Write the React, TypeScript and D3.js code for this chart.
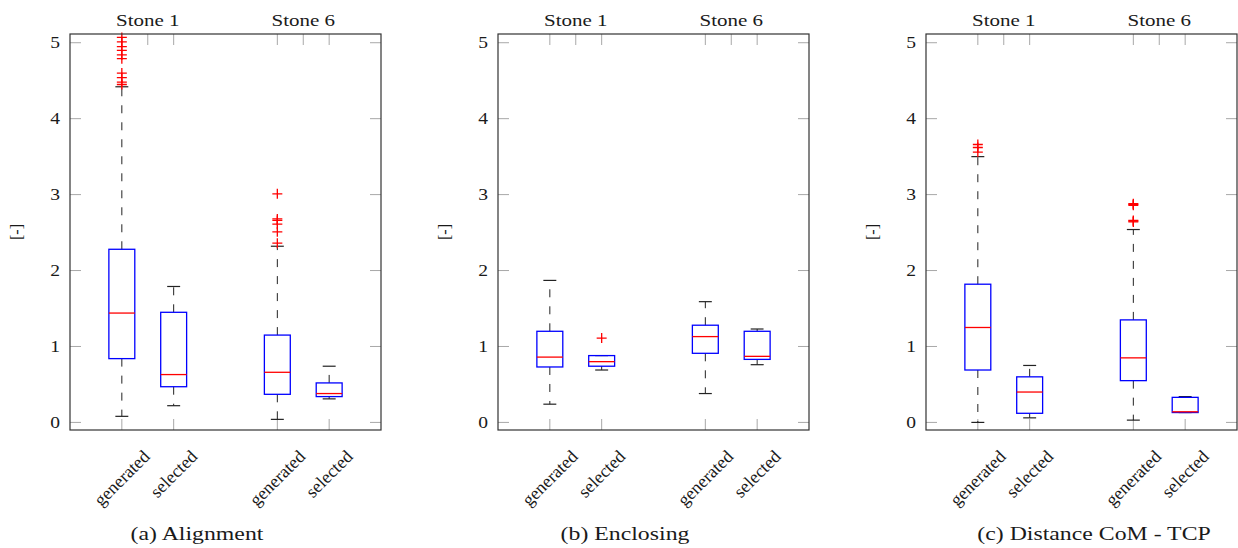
import { useEffect, useRef } from "react"
import * as d3 from "d3"

// two stones, two kinds of grasp each
const stones = ["Stone 1", "Stone 6"]
const kinds = ["generated", "selected", "generated", "selected"]
const positions = [1, 2, 4, 5]
const stonePositions = [1.5, 4.5]
const yTicks = [0, 1, 2, 3, 4, 5]

// each box: [lower whisker, q1, median, q3, upper whisker]
const alignmentBoxes = [
  [0.08, 0.84, 1.44, 2.28, 4.42],
  [0.22, 0.47, 0.63, 1.45, 1.79],
  [0.04, 0.37, 0.66, 1.15, 2.32],
  [0.31, 0.34, 0.38, 0.52, 0.74],
]
const alignmentOutliers = [
  [5.07, 5.01, 4.95, 4.9, 4.84, 4.79, 4.6, 4.54, 4.48, 4.45],
  [],
  [3.01, 2.68, 2.66, 2.61, 2.51, 2.36],
  [],
]

const enclosingBoxes = [
  [0.24, 0.73, 0.86, 1.2, 1.87],
  [0.69, 0.74, 0.8, 0.88, 0.88],
  [0.38, 0.91, 1.13, 1.28, 1.59],
  [0.76, 0.83, 0.87, 1.2, 1.23],
]
const enclosingOutliers = [[], [1.11], [], []]

const distanceBoxes = [
  [0.0, 0.69, 1.25, 1.82, 3.5],
  [0.06, 0.12, 0.4, 0.6, 0.75],
  [0.03, 0.55, 0.85, 1.35, 2.54],
  [0.13, 0.13, 0.14, 0.33, 0.34],
]
const distanceOutliers = [[3.66, 3.62, 3.56], [], [2.88, 2.87, 2.86, 2.66, 2.65, 2.64], []]

const captions = ["(a) Alignment", "(b) Enclosing", "(c) Distance CoM - TCP"]

const panels = [
  { left: 70, capX: 127, caption: captions[0], boxes: alignmentBoxes, outliers: alignmentOutliers },
  { left: 498, capX: 127, caption: captions[1], boxes: enclosingBoxes, outliers: enclosingOutliers },
  { left: 926, capX: 168, caption: captions[2], boxes: distanceBoxes, outliers: distanceOutliers },
]

const FONT = "'Liberation Serif', 'Times New Roman', serif"
const W = 311
const TOP = 34
const BOTTOM = 430

// the reference type is wide, so stretch text a bit horizontally
function label(g: any, px: number, py: number, txt: string, size: number, sx: number, anchor: string, baseline = "auto") {
  return g.append("text")
    .attr("transform", `translate(${px},${py}) scale(${sx},1)`)
    .attr("text-anchor", anchor).attr("dominant-baseline", baseline)
    .style("font-family", FONT).style("font-size", size + "px").style("fill", "#1a1a1a")
    .text(txt)
}

function drawPanel(svg: any, p: any) {
  const g = svg.append("g")
  const x = d3.scaleLinear().domain([0, 6]).range([p.left, p.left + W])
  const y = d3.scaleLinear().domain([-0.1, 5.115]).range([BOTTOM, TOP])
  const tickLen = 11
  const tickColor = "#a8a8a8"

  // y ticks on both sides, inward
  yTicks.forEach(t => {
    g.append("line").attr("x1", p.left).attr("x2", p.left + tickLen)
      .attr("y1", y(t)).attr("y2", y(t)).attr("stroke", tickColor).attr("stroke-width", 1)
    g.append("line").attr("x1", p.left + W - tickLen).attr("x2", p.left + W)
      .attr("y1", y(t)).attr("y2", y(t)).attr("stroke", tickColor).attr("stroke-width", 1)
    label(g, p.left - 10, y(t), String(t), 17, 1.15, "end", "central")
  })

  // top ticks (boxes + stone centres) and bottom ticks (boxes)
  positions.concat(stonePositions).forEach(v => {
    g.append("line").attr("x1", x(v)).attr("x2", x(v))
      .attr("y1", TOP).attr("y2", TOP + tickLen).attr("stroke", tickColor)
  })
  positions.forEach(v => {
    g.append("line").attr("x1", x(v)).attr("x2", x(v))
      .attr("y1", BOTTOM).attr("y2", BOTTOM - tickLen).attr("stroke", tickColor)
  })

  const boxW = (x(1) - x(0)) * 0.5
  const capW = boxW / 2

  p.boxes.forEach((b: number[], i: number) => {
    const cx = x(positions[i])
    const [lo, q1, med, q3, hi] = b
    // whiskers
    g.append("line").attr("x1", cx).attr("x2", cx).attr("y1", y(q3)).attr("y2", y(hi))
      .attr("stroke", "#222").attr("stroke-dasharray", "8,9")
    g.append("line").attr("x1", cx).attr("x2", cx).attr("y1", y(q1)).attr("y2", y(lo))
      .attr("stroke", "#222").attr("stroke-dasharray", "8,9")
    ;[lo, hi].forEach(v => {
      g.append("line").attr("x1", cx - capW / 2).attr("x2", cx + capW / 2)
        .attr("y1", y(v)).attr("y2", y(v)).attr("stroke", "#222").attr("stroke-width", 1.2)
    })
    // box
    g.append("rect").attr("x", cx - boxW / 2).attr("y", y(q3))
      .attr("width", boxW).attr("height", y(q1) - y(q3))
      .attr("fill", "none").attr("stroke", "#0000ff").attr("stroke-width", 1.3)
    g.append("line").attr("x1", cx - boxW / 2).attr("x2", cx + boxW / 2)
      .attr("y1", y(med)).attr("y2", y(med)).attr("stroke", "#ff0000").attr("stroke-width", 1.3)
    // outliers
    p.outliers[i].forEach((v: number) => {
      g.append("path")
        .attr("d", `M${cx - 5},${y(v)}H${cx + 5}M${cx},${y(v) - 5}V${y(v) + 5}`)
        .attr("stroke", "#ff0000").attr("stroke-width", 1.3).attr("fill", "none")
    })
  })

  // frame
  g.append("rect").attr("x", p.left).attr("y", TOP).attr("width", W).attr("height", BOTTOM - TOP)
    .attr("fill", "none").attr("stroke", "#333").attr("stroke-width", 1.2)

  // stone labels on top
  stones.forEach((s, i) => {
    label(g, x(stonePositions[i]), 26, s, 17.5, 1.2, "middle")
  })

  // rotated category labels
  kinds.forEach((k, i) => {
    const fs = 18
    const t = g.append("text")
      .attr("text-anchor", "middle").attr("dominant-baseline", "central")
      .style("font-family", FONT).style("font-size", fs + "px").style("fill", "#1a1a1a")
      .text(k)
    const L = (t.node() as SVGTextElement).getComputedTextLength()
    const H = (L + 0.85 * fs) * Math.SQRT1_2
    t.attr("transform", `translate(${x(positions[i])},${448 + H / 2}) rotate(-45)`)
  })

  // y label
  g.append("text")
    .attr("transform", `translate(${p.left - 54},${(TOP + BOTTOM) / 2}) rotate(-90)`)
    .attr("text-anchor", "middle").attr("dominant-baseline", "central")
    .style("font-family", FONT).style("font-size", "16px").style("fill", "#1a1a1a")
    .text("[-]")

  // caption
  label(g, p.left + p.capX, 540, p.caption, 19.5, 1.22, "middle")
}

export default function App() {
  const ref = useRef<SVGSVGElement>(null)

  useEffect(() => {
    const svg = d3.select(ref.current)
    svg.selectAll("*").remove()
    panels.forEach(p => drawPanel(svg, p))
  }, [])

  return (
    <svg
      ref={ref}
      width={1238}
      height={548}
      style={{ position: "absolute", left: 0, top: 0, background: "#fff" }}
    />
  )
}
